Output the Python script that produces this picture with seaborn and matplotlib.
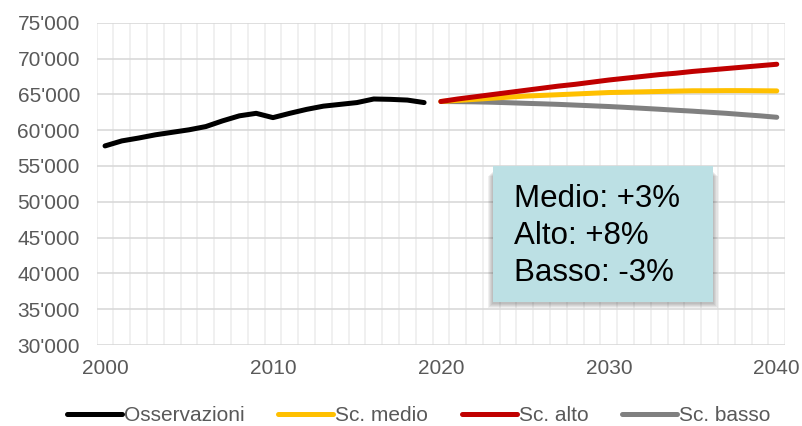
import numpy as np
import pandas as pd
import matplotlib.pyplot as plt
import seaborn as sns
from matplotlib.patches import Rectangle
from matplotlib.ticker import FuncFormatter

# observed series 2000-2019
anni_oss = list(range(2000, 2020))
osservazioni = [57800, 58500, 58900, 59350, 59700, 60050, 60500, 61300, 62000, 62350,
                61750, 62350, 62900, 63350, 63600, 63850, 64350, 64300, 64200, 63850]

# scenarios 2020-2040
anni_sc = list(range(2020, 2041))
sc_medio = [64000, 64150, 64300, 64450, 64600, 64750, 64850, 64950, 65050, 65150, 65250,
            65300, 65350, 65400, 65450, 65500, 65500, 65520, 65520, 65500, 65480]
sc_alto = [64000, 64350, 64650, 64950, 65250, 65550, 65850, 66150, 66400, 66700, 67000,
           67250, 67500, 67750, 67950, 68200, 68400, 68600, 68800, 69000, 69200]
sc_basso = [64000, 63980, 63950, 63900, 63830, 63750, 63680, 63600, 63500, 63400, 63300,
            63180, 63050, 62920, 62780, 62650, 62500, 62350, 62170, 62000, 61800]

box_lines = ["Medio: +3%", "Alto: +8%", "Basso: -3%"]

sns.set_theme(style="white")
plt.rcParams["font.family"] = ["Liberation Sans", "DejaVu Sans"]
plt.rcParams["lines.solid_capstyle"] = "round"

fig = plt.figure(figsize=(8.02, 4.26), dpi=100)
ax = fig.add_axes([0.1205, 0.19, 0.8585, 0.7567])

series = [
    ("Osservazioni", anni_oss, osservazioni, "#000000"),
    ("Sc. medio", anni_sc, sc_medio, "#FFC000"),
    ("Sc. alto", anni_sc, sc_alto, "#C00000"),
    ("Sc. basso", anni_sc, sc_basso, "#808080"),
]
# grey/yellow under red so red sits on top like the original
for i in [0, 3, 1, 2]:
    name, x, y, c = series[i]
    df = pd.DataFrame({"anno": x, "valore": y})
    sns.lineplot(data=df, x="anno", y="valore", color=c, lw=3.6, ax=ax, label=name, legend=False)

ax.set_xlim(1999.5, 2040.5)
ax.set_ylim(30000, 75000)
ax.set_xticks(range(2000, 2041, 10))
ax.set_xticks(np.arange(1999.5, 2041, 1), minor=True)
ax.set_yticks(range(30000, 75001, 5000))
ax.yaxis.set_major_formatter(FuncFormatter(lambda v, p: f"{int(v):,}".replace(",", "'")))
ax.grid(False)
ax.grid(axis="x", which="minor", color="#ededed", lw=1.2)
ax.grid(axis="y", which="major", color="#d9d9d9", lw=1.2)
ax.set_axisbelow(True)
for s in ax.spines.values():
    s.set_visible(False)
ax.tick_params(axis="both", which="both", length=0, labelsize=15, labelcolor="#595959")
ax.tick_params(axis="x", pad=10)
ax.tick_params(axis="y", pad=12)
ax.set_xlabel("")
ax.set_ylabel("")

# text box with soft shadow
bx, by, bw, bh = 0.576, 0.133, 0.319, 0.422
px, py = 1 / 688, 1 / 322
for k in range(1, 6):
    ax.add_patch(Rectangle((bx - k * px, by - (1 + k) * py), bw + 2 * k * px, bh - 4 * py,
                           transform=ax.transAxes, facecolor="#303030", edgecolor="none",
                           alpha=0.07, zorder=4))
ax.add_patch(Rectangle((bx, by), bw, bh, transform=ax.transAxes,
                       facecolor="#BCE0E4", edgecolor="none", zorder=5))
ax.text(bx + 0.03, by + bh / 2 - 0.005, "\n".join(box_lines), transform=ax.transAxes,
        fontsize=22.5, color="#000000", va="center", ha="left", linespacing=1.3, zorder=6)

handles, labels = ax.get_legend_handles_labels()
hl = dict(zip(labels, handles))
names = [s[0] for s in series]
fig.legend([hl[n] for n in names], names, loc="lower center", bbox_to_anchor=(0.522, -0.042),
           ncol=4, frameon=False, fontsize=15, handlelength=2.65, handletextpad=0.1,
           columnspacing=1.6, labelcolor="#595959")

fig.savefig("out.png", dpi=100)
